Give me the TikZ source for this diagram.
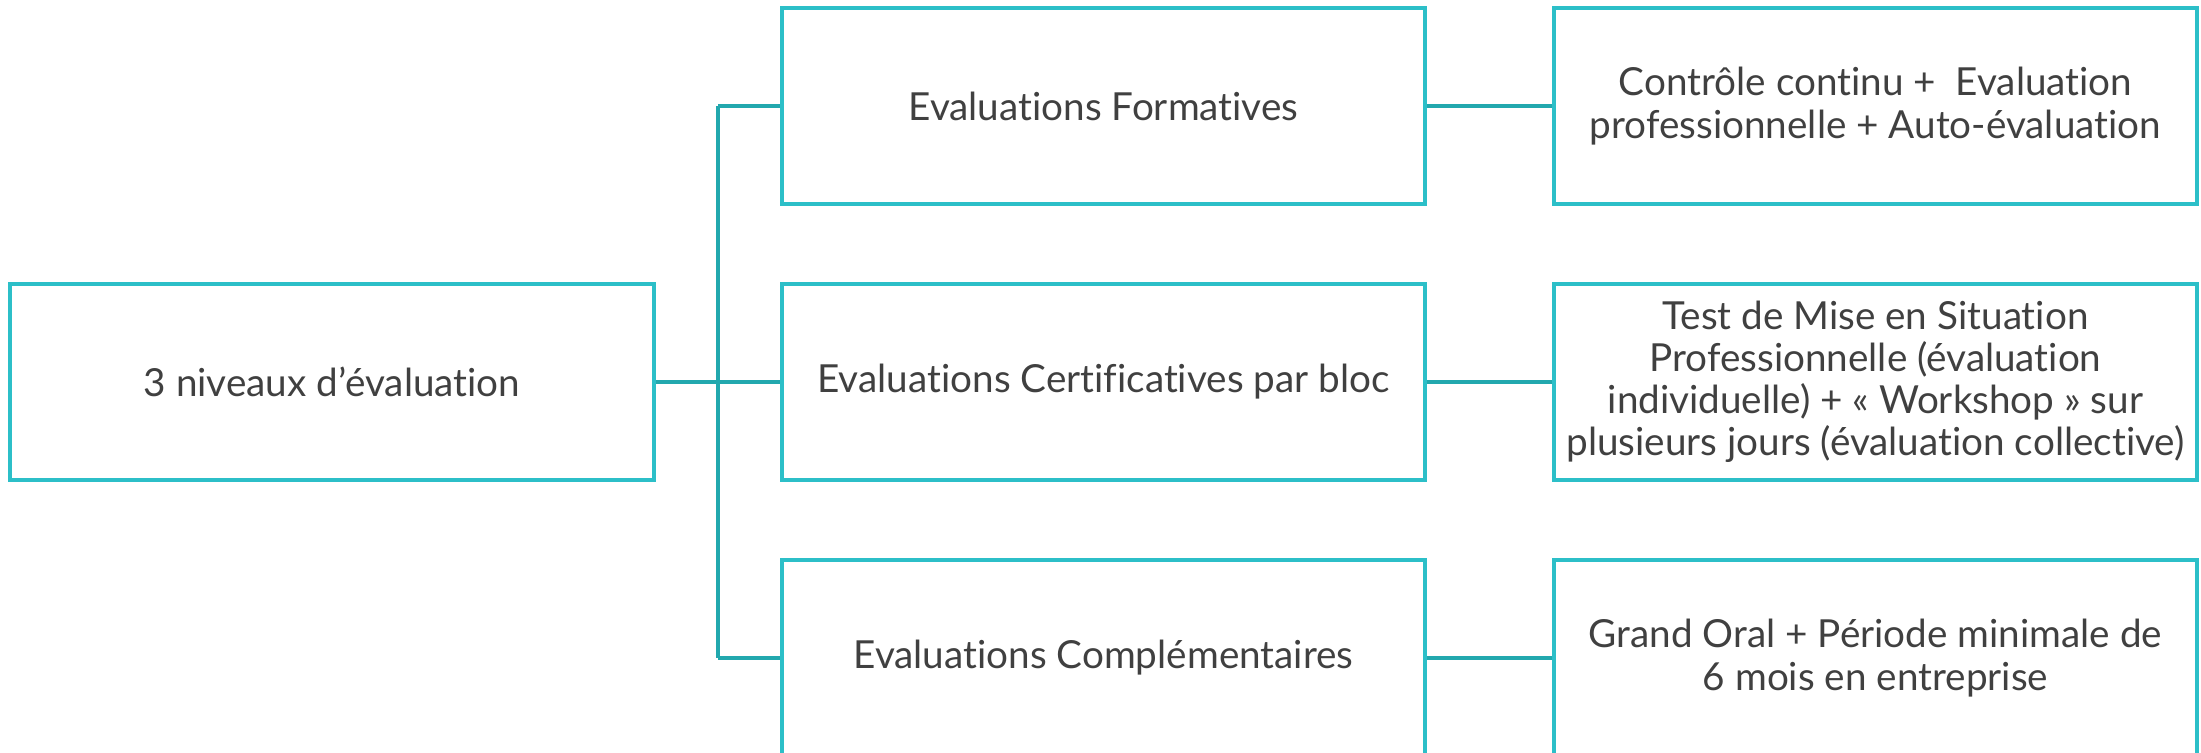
\documentclass[tikz,border=0pt]{standalone}
\usepackage{fontspec}
\setmainfont{Lato}[Ligatures=NoCommon]
\usepackage{tikz}
\definecolor{cadre}{HTML}{2CBFC8}
\definecolor{trait}{HTML}{22A8AE}
\definecolor{gristexte}{HTML}{404040}

\begin{document}
\begin{tikzpicture}[
		boite/.style = {draw=cadre, line width=1.1pt, minimum width=6.43cm, minimum height=1.96cm,
			inner sep=0pt, align=center, text=gristexte, font=\fontsize{11}{12}\selectfont},
		lien/.style = {draw=trait, line width=1.1pt}]
				\clip (0,0) rectangle (22.01,7.53);
				% racine
				\node[boite, minimum width=6.44cm] (niveaux) at (3.32,3.71) {3 niveaux d’évaluation};
				% colonne du milieu
				\node[boite] (formatives) at (11.035,6.47) {Evaluations Formatives};
				\node[boite] (certif) at (11.035,3.71) {Evaluations Certificatives par bloc};
				\node[boite] (complem) at (11.035,0.95) {Evaluations Complémentaires};
				% colonne de droite
				\node[boite] (detailform) at (18.755,6.47) {Contrôle continu +~ Evaluation\\professionnelle + Auto-évaluation};
				\node[boite] (detailcertif) at (18.755,3.71) {Test de Mise en Situation\\Professionnelle (évaluation\\individuelle) + «~Workshop~» sur\\plusieurs jours (évaluation collective)};
				\node[boite] (detailcomplem) at (18.755,0.95) {Grand Oral + Période minimale de\\6 mois en entreprise};
				% liens
				\coordinate (jonction) at (7.18,3.71);
				\draw[lien] (niveaux.east) -- (jonction);
				\draw[lien] (jonction |- formatives.west) -- (jonction |- complem.west);
				\foreach \b/\c in {formatives/detailform, certif/detailcertif, complem/detailcomplem} {
					\draw[lien] (jonction |- \b.west) -- (\b.west);
					\draw[lien] (\b.east) -- (\c.west);
				}
			\end{tikzpicture}
\end{document}
